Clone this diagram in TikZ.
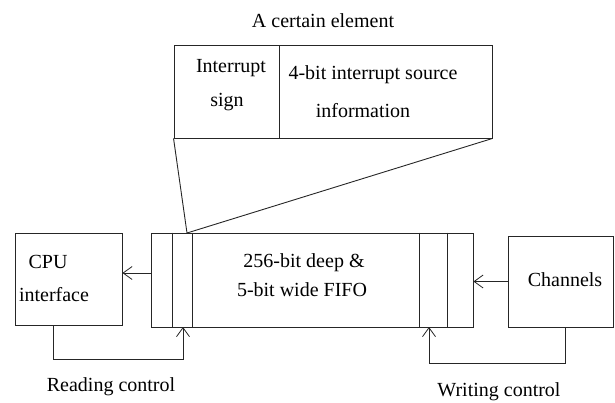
\documentclass[tikz,border=0pt]{standalone}
\usepackage{fontspec}
\setmainfont{Liberation Serif}
\usetikzlibrary{arrows.meta}
\begin{document}
\begin{tikzpicture}[x=1pt,y=-1pt,
  line/.style={draw=black!85, line width=0.9pt},
  box/.style={line, inner sep=0pt},
  lbl/.style={inner sep=0pt, font=\fontsize{20}{24}\selectfont},
  arr/.style={line, -{Straight Barb[length=9pt,width=13pt,line width=0.8pt]}}]
\useasboundingbox (0,0) rectangle (615,402);
% top element
\node[box, minimum width=105pt, minimum height=93pt] (sign) at (226.5,91.5) {};
\node[box, minimum width=213pt, minimum height=93pt] (info) at (385.5,91.5) {};
\node[lbl] (title) at (323,21) {A certain element};
\node[lbl] (t1) at (231,68) {Interrupt};
\node[lbl] (t2) at (227,102) {sign};
\node[lbl] (t3) at (373,75) {4-bit interrupt source};
\node[lbl] (t4) at (363,111) {information};
% FIFO
\node[box, minimum width=322pt, minimum height=94pt] (fifo) at (312,280) {};
\draw[line] ([xshift=22pt]fifo.north west) -- ([xshift=22pt]fifo.south west);
\draw[line] ([xshift=42pt]fifo.north west) -- ([xshift=42pt]fifo.south west);
\draw[line] ([xshift=-54pt]fifo.north east) -- ([xshift=-54pt]fifo.south east);
\draw[line] ([xshift=-26pt]fifo.north east) -- ([xshift=-26pt]fifo.south east);
\node[lbl] (f1) at (304,263) {256-bit deep \&};
\node[lbl] (f2) at (302,290) {5-bit wide FIFO};
% CPU
\node[box, minimum width=107pt, minimum height=92pt] (cpu) at (68.5,279) {};
\node[lbl] (c1) at (48,262) {CPU};
\node[lbl] (c2) at (54,295) {interface};
% Channels
\node[box, minimum width=105.5pt, minimum height=91pt] (ch) at (560.75,281.5) {};
\node[lbl] (c3) at (565,280) {Channels};
% zoom lines
\coordinate (conv) at (187,233);
\draw[line] (sign.south west) -- (conv) -- (info.south east);
% arrows
\coordinate (ra) at ([yshift=7pt]fifo.west);
\draw[arr] (ra) -- (ra -| cpu.east);
\draw[arr] (ch.west) -- (ch.west -| fifo.east);
\coordinate (rd) at (183,327);
\coordinate (wr) at (429,327);
\draw[arr] ([xshift=-15.5pt]cpu.south) -- ++(0,34) -| (rd);
\draw[arr] ([xshift=4.25pt]ch.south) -- ++(0,36) -| (wr);
\node[lbl] (rc) at (111,387) {Reading control};
\node[lbl] (wc) at (499,392) {Writing control};
\end{tikzpicture}
\end{document}
